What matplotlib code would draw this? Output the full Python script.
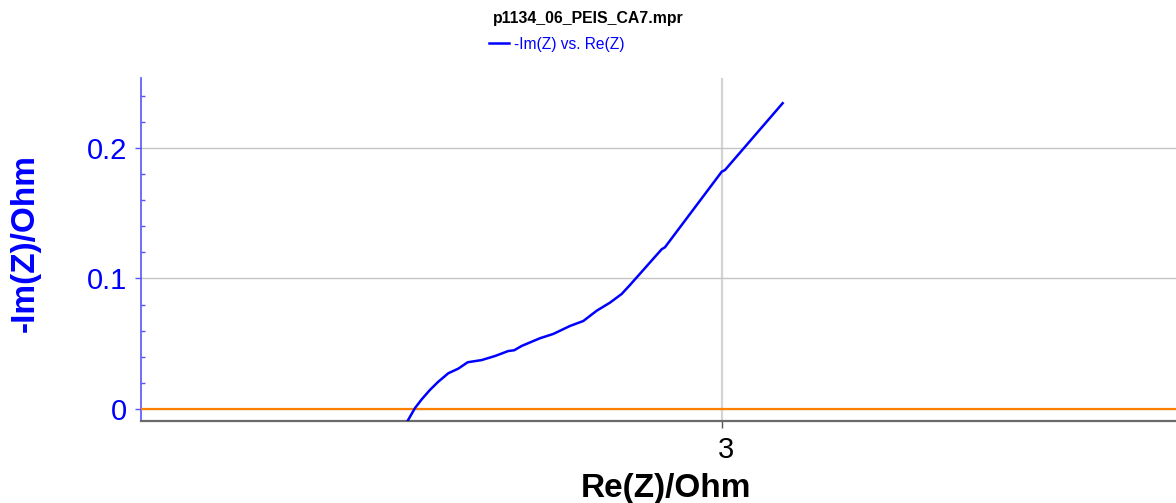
import numpy as np
import matplotlib
matplotlib.use('Agg')
import matplotlib.pyplot as plt
from matplotlib.lines import Line2D
from matplotlib.ticker import MultipleLocator
from matplotlib.transforms import ScaledTranslation

plt.rcParams['font.family'] = ['Liberation Sans', 'DejaVu Sans']

## Nyquist data read from the PEIS run (Ohm)
re_z = [2.7586, 2.7648, 2.7699, 2.7762, 2.7826, 2.7903, 2.7979, 2.8051,
        2.8159, 2.8261, 2.8362, 2.8408, 2.8465, 2.8605, 2.8707, 2.8835,
        2.8937, 2.9040, 2.9142, 2.9231, 2.9295, 2.9397, 2.9538, 2.9563,
        2.9998, 3.0023, 3.0465]
neg_im_z = [-0.0100, 0.0008, 0.0074, 0.0146, 0.0209, 0.0274, 0.0309, 0.0358,
            0.0375, 0.0406, 0.0444, 0.0450, 0.0483, 0.0542, 0.0575, 0.0636,
            0.0674, 0.0753, 0.0815, 0.0881, 0.0950, 0.1065, 0.1224, 0.1239,
            0.1818, 0.1831, 0.2343]
y_ticks = [0, 0.1, 0.2]
y_tick_labels = ['0', '0.1', '0.2']
x_ticks = [3]
x_tick_labels = ['3']
title = 'p1134_06_PEIS_CA7.mpr'
series_label = '-Im(Z) vs. Re(Z)'

## Figure and axes
fig = plt.figure(figsize=(11.76, 5.03), dpi=100)
ax = fig.add_axes([141/1176, 82/503, 1035/1176, 343/503])

blue = '#0000ff'
ax.axhline(0, color='#ff8000', lw=1.6, zorder=3)
ax.plot(re_z, neg_im_z, color=blue, lw=1.8, zorder=4)

ax.set_xlim(2.5548, 3.3479)
ax.set_ylim(-0.0092, 0.2536)

ax.set_xticks(x_ticks)
ax.set_xticklabels(x_tick_labels)
ax.set_yticks(y_ticks)
ax.set_yticklabels(y_tick_labels)
ax.yaxis.set_minor_locator(MultipleLocator(0.02))

ax.grid(True, which='major', axis='y', color='#c4c4c4', lw=1.0)
ax.grid(True, which='major', axis='x', color='#d4d4d4', lw=1.6)
ax.set_axisbelow(True)

for side in ['top', 'right']:
    ax.spines[side].set_visible(False)
ax.spines['left'].set_color('#5555ff')
ax.spines['left'].set_linewidth(1.2)
ax.spines['bottom'].set_color('#6a6a6a')
ax.spines['bottom'].set_linewidth(1.6)

ax.tick_params(axis='y', which='major', direction='out', length=4, width=1,
               color='#5555ff', labelcolor=blue, labelsize=21, pad=6)
ax.tick_params(axis='y', which='minor', direction='in', length=3, width=1,
               color='#5555ff')
ax.tick_params(axis='x', which='major', direction='out', length=5, width=1,
               color='#555555', labelcolor='black', labelsize=21, pad=6)
# x tick label sits a little right of its tick
for lab in ax.get_xticklabels():
    lab.set_transform(lab.get_transform() +
                      ScaledTranslation(4/100, 0, fig.dpi_scale_trans))

ax.set_ylabel('-Im(Z)/Ohm', color=blue, fontsize=24, fontweight='bold')
ax.yaxis.set_label_coords(-0.1121, 0.5175)
ax.yaxis.label.set_va('center')
ax.set_xlabel('Re(Z)/Ohm', color='black', fontsize=24, fontweight='bold')
ax.xaxis.set_label_coords(0.507, -0.2216)
ax.xaxis.label.set_va('baseline')

## Title and legend on top of the figure
fig.text(0.5, 1 - 19/503, title, ha='center', va='center', fontsize=11.4,
         fontweight='bold')
handle = Line2D([], [], color=blue, lw=1.8)
fig.legend([handle], [series_label], loc='center',
           bbox_to_anchor=(557/1176, 1 - 44/503), frameon=False,
           fontsize=11.2, labelcolor=blue, handlelength=1.25,
           handletextpad=0.35)

fig.savefig('out.png', dpi=100)
